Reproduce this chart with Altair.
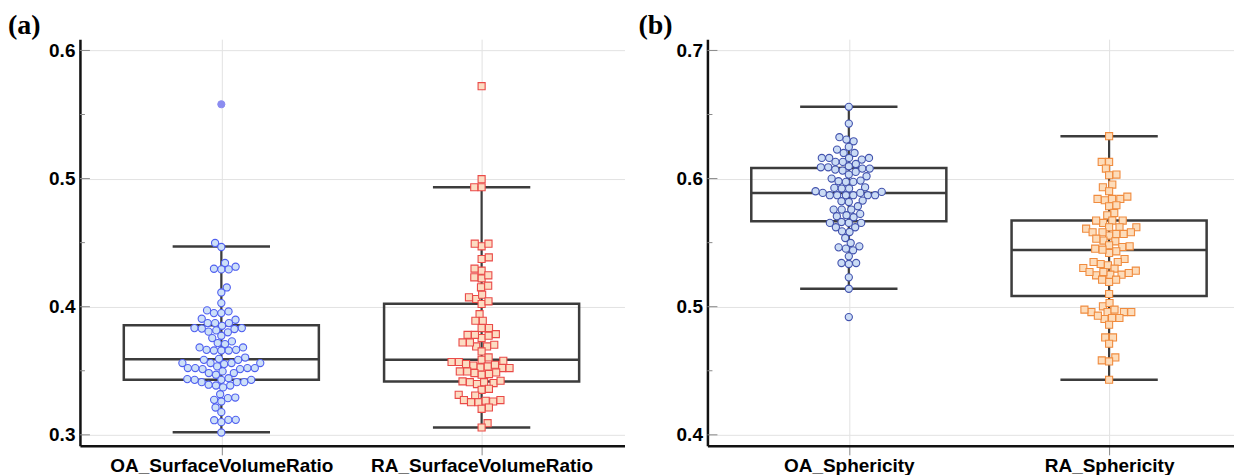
import math
import altair as alt
import pandas as pd

# ---------------- data ----------------
cats_a = ["OA_SurfaceVolumeRatio", "RA_SurfaceVolumeRatio"]
cats_b = ["OA_Sphericity", "RA_Sphericity"]

oa_svr = [0.4497, 0.4466, 0.4341, 0.4291, 0.4291, 0.4296, 0.4312, 0.4150, 0.4111, 0.4028,
          0.3950, 0.3950, 0.3963, 0.3971, 0.3898, 0.3906, 0.3851, 0.3872, 0.3872, 0.3872,
          0.3833, 0.3833, 0.3826, 0.3829, 0.3800, 0.3805, 0.3815, 0.3755, 0.3773, 0.3708,
          0.3716, 0.3729, 0.3658, 0.3658, 0.3658, 0.3663, 0.3663, 0.3682, 0.3682, 0.3593,
          0.3603, 0.3585, 0.3585, 0.3552, 0.3560, 0.3560, 0.3560, 0.3560, 0.3513, 0.3513,
          0.3521, 0.3521, 0.3521, 0.3521, 0.3534, 0.3469, 0.3482, 0.3482, 0.3495, 0.3411,
          0.3411, 0.3411, 0.3429, 0.3429, 0.3429, 0.3435, 0.3442, 0.3370, 0.3385, 0.3385,
          0.3391, 0.3317, 0.3260, 0.3273, 0.3286, 0.3291, 0.3213, 0.3177, 0.3099, 0.3114,
          0.3117, 0.3117, 0.3018]
oa_svr_outlier = [0.558]

ra_svr = [0.5721, 0.4995, 0.4932, 0.4932, 0.4471, 0.4492, 0.4492, 0.4372, 0.4385, 0.4281,
          0.4297, 0.4221, 0.4229, 0.4245, 0.4151, 0.4164, 0.4060, 0.4073, 0.4094, 0.4021,
          0.4042, 0.3942, 0.3890, 0.3890, 0.3833, 0.3833, 0.3755, 0.3773, 0.3786, 0.3780,
          0.3780, 0.3690, 0.3690, 0.3703, 0.3721, 0.3721, 0.3651, 0.3568, 0.3568, 0.3578,
          0.3586, 0.3604, 0.3521, 0.3521, 0.3526, 0.3534, 0.3541, 0.3547, 0.3552, 0.3469,
          0.3474, 0.3482, 0.3487, 0.3495, 0.3495, 0.3396, 0.3404, 0.3411, 0.3411, 0.3417,
          0.3422, 0.3351, 0.3359, 0.3307, 0.3312, 0.3255, 0.3255, 0.3260, 0.3266, 0.3271,
          0.3271, 0.3203, 0.3213, 0.3091, 0.3057]

oa_sph = [0.6560, 0.6429, 0.6291, 0.6304, 0.6323, 0.6247, 0.6200, 0.6200, 0.6226, 0.6130,
          0.6130, 0.6148, 0.6161, 0.6161, 0.6161, 0.6161, 0.6088, 0.6088, 0.6096, 0.6114,
          0.6052, 0.6062, 0.6070, 0.6078, 0.6078, 0.6000, 0.6018, 0.6031, 0.5974, 0.5974,
          0.5984, 0.5979, 0.5922, 0.5922, 0.5927, 0.5932, 0.5870, 0.5870, 0.5870, 0.5870,
          0.5870, 0.5870, 0.5888, 0.5888, 0.5896, 0.5901, 0.5817, 0.5823, 0.5828, 0.5758,
          0.5758, 0.5758, 0.5784, 0.5698, 0.5706, 0.5714, 0.5724, 0.5654, 0.5654, 0.5654,
          0.5661, 0.5620, 0.5620, 0.5583, 0.5588, 0.5536, 0.5497, 0.5440, 0.5453, 0.5463,
          0.5471, 0.5393, 0.5333, 0.5341, 0.5341, 0.5229, 0.5140, 0.4919]

ra_sph = [0.6331, 0.6130, 0.6130, 0.6078, 0.6026, 0.6031, 0.5953, 0.5932, 0.5901, 0.5831,
          0.5841, 0.5841, 0.5841, 0.5859, 0.5784, 0.5792, 0.5732, 0.5714, 0.5654, 0.5672,
          0.5672, 0.5672, 0.5609, 0.5620, 0.5620, 0.5620, 0.5555, 0.5568, 0.5568, 0.5581,
          0.5581, 0.5581, 0.5510, 0.5516, 0.5531, 0.5466, 0.5471, 0.5479, 0.5419, 0.5432,
          0.5445, 0.5453, 0.5372, 0.5323, 0.5333, 0.5349, 0.5349, 0.5281, 0.5297, 0.5302,
          0.5245, 0.5250, 0.5250, 0.5263, 0.5271, 0.5271, 0.5193, 0.5211, 0.5211, 0.5099,
          0.5003, 0.5029, 0.4958, 0.4958, 0.4958, 0.4958, 0.4977, 0.4977, 0.4904, 0.4912,
          0.4912, 0.4930, 0.4859, 0.4760, 0.4760, 0.4711, 0.4604, 0.4573, 0.4581, 0.4430]

# box statistics: whisker low, q1, median, q3, whisker high
stats_a_lo = [0.3020, 0.3057]
stats_a_q1 = [0.3430, 0.3416]
stats_a_med = [0.3590, 0.3586]
stats_a_q3 = [0.3855, 0.4023]
stats_a_hi = [0.4470, 0.4932]

stats_b_lo = [0.5140, 0.4430]
stats_b_q1 = [0.5666, 0.5083]
stats_b_med = [0.5888, 0.5443]
stats_b_q3 = [0.6083, 0.5672]
stats_b_hi = [0.6560, 0.6331]

ticks_a = [0.3, 0.4, 0.5, 0.6]
minor_a = [0.35, 0.45, 0.55]
ticks_b = [0.4, 0.5, 0.6, 0.7]
minor_b = [0.45, 0.55, 0.65]

# ---------------- layout constants ----------------
H = 407
PX_X = 260.5          # pixels per category unit
BOX_HW = 0.3747
CAP_HW = 0.187
DOT_D = 7.4
FONT = "Liberation Sans"


def swarm(values, y_px_per_unit):
    ys = [v * y_px_per_unit for v in values]
    order = sorted(range(len(ys)), key=lambda i: ys[i])
    placed = []
    offs = [0.0] * len(ys)
    flip = 1
    for i in order:
        y = ys[i]
        cands = [0.0]
        for (px, py) in placed:
            dy = abs(py - y)
            if dy < DOT_D:
                dx = math.sqrt(DOT_D * DOT_D - dy * dy)
                cands += [px - dx, px + dx]
        cands = sorted(set(cands), key=lambda c: (round(abs(c), 3), flip * c))
        x = 0.0
        for c in cands:
            if all((c - px) ** 2 + (y - py) ** 2 >= DOT_D * DOT_D - 1e-3 for px, py in placed):
                x = c
                break
        flip = -flip
        placed.append((x, y))
        offs[i] = x / PX_X
    return offs


def panel(label, names, groups, styles, lo, q1, med, q3, hi, ydom, width, ticks, minor,
          label_dx):
    xdom = [1 - 141.5 / PX_X, 2 + (width - 402.0) / PX_X]
    ypx = H / (ydom[1] - ydom[0])
    label_expr = "datum.value == 1 ? '%s' : '%s'" % (names[0], names[1])
    xs = alt.Scale(domain=xdom, nice=False, zero=False)
    ys = alt.Scale(domain=ydom, nice=False, zero=False)
    xaxis = alt.Axis(values=[1, 2], labelExpr=label_expr, title=None, grid=True,
                     gridColor="#e2e2e2", gridWidth=1, domainColor="#111111",
                     domainWidth=2.5, tickColor="#8a8a8a", tickSize=9, tickWidth=1,
                     labelFontSize=19, labelPadding=2, labelLimit=0, labelFlush=False,
                     labelOverlap=False)
    yaxis = alt.Axis(values=ticks, format=".1f", title=None, grid=True,
                     gridColor="#e2e2e2", gridWidth=1, domainColor="#111111",
                     domainWidth=2.5, ticks=False, tickSize=0, labelFontSize=19,
                     labelPadding=5, labelFlush=False)

    def X(f):
        return alt.X(f, type="quantitative", scale=xs, axis=xaxis)

    def Y(f):
        return alt.Y(f, type="quantitative", scale=ys, axis=yaxis)

    stats = pd.DataFrame({
        "c": [1, 2], "lo": lo, "q1": q1, "med": med, "q3": q3, "hi": hi,
    })
    stats["bl"] = stats["c"] - BOX_HW
    stats["br"] = stats["c"] + BOX_HW
    stats["cl"] = stats["c"] - CAP_HW
    stats["cr"] = stats["c"] + CAP_HW

    line_col = "#3c3c3c"
    whisk = alt.Chart(stats).mark_rule(color=line_col, strokeWidth=2.2).encode(
        x=X("c"), y=Y("lo"), y2="hi")
    cap_lo = alt.Chart(stats).mark_rule(color=line_col, strokeWidth=2.5).encode(
        x=X("cl"), x2="cr", y=Y("lo"))
    cap_hi = alt.Chart(stats).mark_rule(color=line_col, strokeWidth=2.5).encode(
        x=X("cl"), x2="cr", y=Y("hi"))
    box = alt.Chart(stats).mark_rect(fillOpacity=0, stroke=line_col, strokeWidth=2.5).encode(
        x=X("bl"), x2="br", y=Y("q1"), y2="q3")
    medl = alt.Chart(stats).mark_rule(color=line_col, strokeWidth=2.5).encode(
        x=X("bl"), x2="br", y=Y("med"))

    tk = alt.Chart(pd.DataFrame({"v": ticks})).mark_rule(color="#8a8a8a", strokeWidth=1).encode(
        x=alt.value(0), x2=alt.value(10), y=Y("v"))
    tkm = alt.Chart(pd.DataFrame({"v": minor})).mark_rule(color="#8a8a8a", strokeWidth=1).encode(
        x=alt.value(0), x2=alt.value(5), y=Y("v"))

    layers = [whisk, cap_lo, cap_hi, box, medl, tk, tkm]

    for gi, vals in enumerate(groups):
        offs = swarm(vals, ypx)
        df = pd.DataFrame({"v": vals, "x": [gi + 1 + o for o in offs]})
        st = styles[gi]
        pts = alt.Chart(df).mark_point(filled=True, shape=st["shape"], size=st["size"],
                                       fill=st["fill"], stroke=st["stroke"],
                                       strokeWidth=1.1, opacity=1, fillOpacity=1).encode(
            x=X("x"), y=Y("v"))
        layers.append(pts)
        if st.get("out"):
            dfo = pd.DataFrame({"v": st["out"], "x": [gi + 1] * len(st["out"])})
            po = alt.Chart(dfo).mark_point(filled=True, shape="circle", size=st["size"],
                                           fill="#8b8cf0", stroke="#8b8cf0",
                                           strokeWidth=1, opacity=1).encode(
                x=X("x"), y=Y("v"))
            layers.append(po)

    lab = alt.Chart(pd.DataFrame({"t": [label]})).mark_text(
        align="left", baseline="alphabetic", font="Liberation Serif", fontWeight="bold",
        fontSize=28, color="#000000").encode(
        x=alt.value(label_dx), y=alt.value(-5), text="t:N")
    layers.append(lab)

    return alt.layer(*layers).properties(width=width, height=H)


blue_a = {"shape": "circle", "size": 52, "fill": "#cde0f8", "stroke": "#4f5ff0",
          "out": oa_svr_outlier}
red_a = {"shape": "square", "size": 50, "fill": "#fcdcc2", "stroke": "#ea4a48"}
blue_b = {"shape": "circle", "size": 52, "fill": "#cbdcf5", "stroke": "#4252ad"}
orange_b = {"shape": "square", "size": 50, "fill": "#fddcba", "stroke": "#f08b3e"}

pa = panel("(a)", cats_a, [oa_svr, ra_svr], [blue_a, red_a], stats_a_lo, stats_a_q1,
           stats_a_med, stats_a_q3, stats_a_hi, [0.2914, 0.6088], 545, ticks_a, minor_a, -72)
pb = panel("(b)", cats_b, [oa_sph, ra_sph], [blue_b, orange_b], stats_b_lo, stats_b_q1,
           stats_b_med, stats_b_q3, stats_b_hi, [0.3914, 0.7088], 527, ticks_b, minor_b, -69)

chart = alt.hconcat(pa, pb, spacing=14).properties(
    padding={"left": 0, "top": 4, "right": 0, "bottom": 0}
).configure_view(strokeWidth=0).configure_axis(
    labelFont=FONT, labelFontWeight="bold", labelColor="#000000"
)

chart.save("out.html", embed_options={"renderer": "svg", "actions": False})
